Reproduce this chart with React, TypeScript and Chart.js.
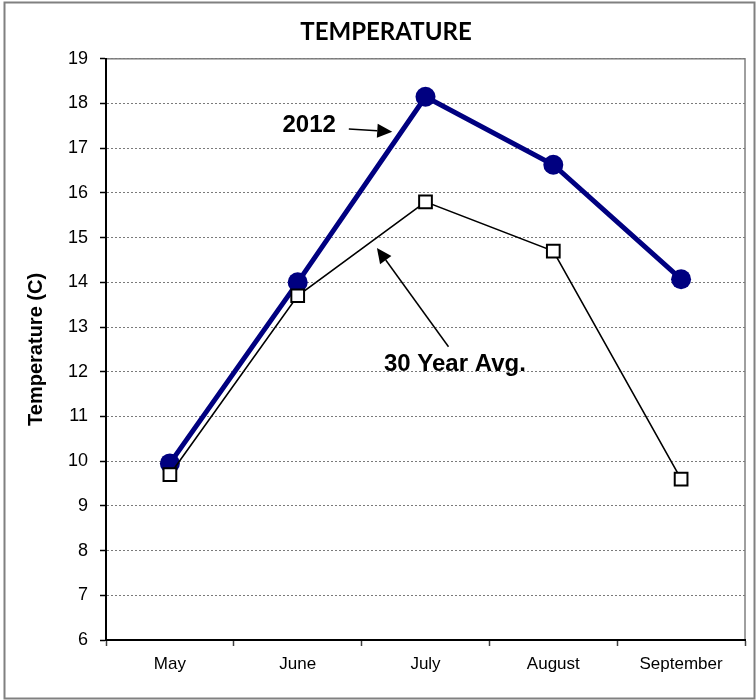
import React, { useEffect, useRef } from "react";
import { Chart, registerables } from "chart.js";

Chart.register(...registerables);

const months = ["May", "June", "July", "August", "September"];
const temps2012 = [9.95, 14.0, 18.15, 16.63, 14.07];
const temps30yr = [9.7, 13.7, 15.8, 14.7, 9.6];
const yMin = 6;
const yMax = 19;

// annotation anchors in data space: [categoryIndex, value]
const label2012 = { text: "2012", at: [1.09, 17.5] };
const arrow2012 = { from: [1.4, 17.43], to: [1.74, 17.37] };
const labelAvg = { text: "30 Year Avg.", at: [2.23, 12.16] };
const arrowAvg = { from: [2.18, 12.56], to: [1.62, 14.77] };

const frameAndNotes = {
  id: "frameAndNotes",
  beforeDraw(chart: any) {
    const { ctx, chartArea } = chart;
    ctx.save();
    ctx.fillStyle = "#ffffff";
    ctx.fillRect(0, 0, chart.width, chart.height);
    ctx.strokeStyle = "#808080";
    ctx.lineWidth = 2;
    ctx.strokeRect(4.5, 2.5, 750, 696);
    ctx.lineWidth = 1.5;
    ctx.strokeRect(chartArea.left, chartArea.top, chartArea.right - chartArea.left, chartArea.bottom - chartArea.top);
    ctx.restore();
  },
  afterDatasetsDraw(chart: any) {
    const { ctx } = chart;
    const xs = chart.scales.x;
    const ys = chart.scales.y;
    const px = (p: number[]) => [xs.getPixelForValue(p[0]), ys.getPixelForValue(p[1])];
    const drawArrow = (a: { from: number[]; to: number[] }) => {
      const [x1, y1] = px(a.from);
      const [x2, y2] = px(a.to);
      const ang = Math.atan2(y2 - y1, x2 - x1);
      const hl = 15;
      const hw = 7;
      const bx = x2 - hl * Math.cos(ang);
      const by = y2 - hl * Math.sin(ang);
      ctx.save();
      ctx.strokeStyle = "#000";
      ctx.fillStyle = "#000";
      ctx.lineWidth = 1.5;
      ctx.beginPath();
      ctx.moveTo(x1, y1);
      ctx.lineTo(bx, by);
      ctx.stroke();
      ctx.beginPath();
      ctx.moveTo(x2, y2);
      ctx.lineTo(bx + hw * Math.sin(ang), by - hw * Math.cos(ang));
      ctx.lineTo(bx - hw * Math.sin(ang), by + hw * Math.cos(ang));
      ctx.closePath();
      ctx.fill();
      ctx.restore();
    };
    const drawLabel = (l: { text: string; at: number[] }) => {
      const [x, y] = px(l.at);
      ctx.save();
      ctx.fillStyle = "#000";
      ctx.font = "bold 24px 'Liberation Sans', Arial, sans-serif";
      ctx.textAlign = "center";
      ctx.textBaseline = "middle";
      ctx.fillText(l.text, x, y);
      ctx.restore();
    };
    drawArrow(arrow2012);
    drawArrow(arrowAvg);
    drawLabel(label2012);
    drawLabel(labelAvg);
  },
};

export default function App() {
  const ref = useRef<HTMLCanvasElement>(null);
  useEffect(() => {
    document.body.style.margin = "0";
    const chart = new Chart(ref.current as HTMLCanvasElement, {
      type: "line",
      data: {
        labels: months,
        datasets: [
          {
            label: "2012",
            data: temps2012,
            borderColor: "#000080",
            backgroundColor: "#000080",
            borderWidth: 5,
            pointRadius: 10,
            pointBorderWidth: 0,
            pointBackgroundColor: "#000080",
            tension: 0,
            order: 1,
          },
          {
            label: "30 Year Avg.",
            data: temps30yr,
            borderColor: "#000000",
            borderWidth: 1.6,
            pointStyle: "rect",
            pointRadius: 9,
            pointBorderWidth: 2,
            pointBorderColor: "#000000",
            pointBackgroundColor: "#ffffff",
            tension: 0,
            order: 0,
          },
        ],
      },
      options: {
        responsive: false,
        animation: false,
        events: [],
        layout: { padding: { left: 24, right: 8, top: 0, bottom: 0 } },
        plugins: {
          legend: { display: false },
          tooltip: { enabled: false },
          title: {
            display: true,
            text: "TEMPERATURE",
            color: "#000",
            font: { family: "Lato, 'Open Sans', sans-serif", size: 24, weight: "bold" },
            padding: { top: 18, bottom: 12 },
          },
        },
        scales: {
          x: {
            offset: true,
            grid: {
              offset: true,
              drawOnChartArea: false,
              drawTicks: true,
              tickLength: 6,
              tickColor: "#404040",
              tickWidth: 1.5,
            },
            border: { display: true, color: "#000", width: 2 },
            ticks: {
              color: "#000",
              padding: 8,
              font: { family: "'Liberation Sans', Arial, sans-serif", size: 17 },
              maxRotation: 0,
            },
            afterFit: (s: any) => {
              s.height = 60;
            },
          },
          y: {
            min: yMin,
            max: yMax,
            ticks: {
              stepSize: 1,
              color: "#000",
              padding: 12,
              font: { family: "'Liberation Sans', Arial, sans-serif", size: 18 },
            },
            grid: {
              color: "#7a7a7a",
              lineWidth: 1,
              tickLength: 6,
              tickColor: "#000",
              tickWidth: 1.5,
            },
            border: { display: true, color: "#000", width: 2, dash: [2, 2] },
            title: {
              display: true,
              text: "Temperature (C)",
              color: "#000",
              font: { family: "'Liberation Sans', Arial, sans-serif", size: 20, weight: "bold" },
              padding: { top: 0, bottom: 0 },
            },
            afterFit: (s: any) => {
              s.width = 82;
            },
          },
        },
      },
      plugins: [frameAndNotes],
    });
    return () => chart.destroy();
  }, []);
  return (
    <div style={{ width: 756, height: 700 }}>
      <canvas ref={ref} width={756} height={700} />
    </div>
  );
}
